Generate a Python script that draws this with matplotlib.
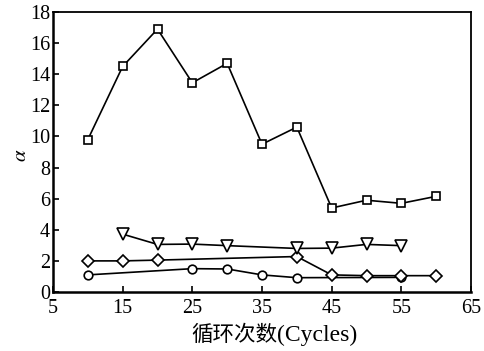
import matplotlib
matplotlib.use("Agg")
import matplotlib.pyplot as plt

plt.rcParams['font.family'] = ['Liberation Serif', 'Noto Sans CJK SC']
plt.rcParams['mathtext.fontset'] = 'stix'

# alpha vs. cycle number for four series
cyc_sq = [10, 15, 20, 25, 30, 35, 40, 45, 50, 55, 60]
alpha_sq = [9.8, 14.5, 16.9, 13.45, 14.7, 9.5, 10.6, 5.4, 5.9, 5.7, 6.15]

cyc_tri = [15, 20, 25, 30, 40, 45, 50, 55]
alpha_tri = [3.72, 3.06, 3.08, 2.98, 2.8, 2.82, 3.06, 2.98]

cyc_dia = [10, 15, 20, 40, 45, 50, 55, 60]
alpha_dia = [2.0, 2.0, 2.05, 2.28, 1.1, 1.05, 1.05, 1.05]

cyc_cir = [10, 25, 30, 35, 40, 55]
alpha_cir = [1.1, 1.5, 1.48, 1.1, 0.92, 0.94]

xticks = [5, 15, 25, 35, 45, 55, 65]
yticks = [0, 2, 4, 6, 8, 10, 12, 14, 16, 18]

W, H = 484, 351
fig = plt.figure(figsize=(W/100, H/100), dpi=100)
ax = fig.add_axes([53/W, 1-292/H, (471-53)/W, (292-12)/H])

style = dict(color='black', lw=1.2, mfc='white', mec='black', mew=1.2, clip_on=False)
ax.plot(cyc_cir, alpha_cir, marker='o', ms=6.2, **style)
ax.plot(cyc_dia, alpha_dia, marker='D', ms=6.2, **style)
ax.plot(cyc_tri, alpha_tri, marker='v', ms=8, **style)
ax.plot(cyc_sq, alpha_sq, marker='s', ms=5.8, **style)

ax.set_xlim(5, 65)
ax.set_ylim(0, 18)
ax.set_xticks(xticks)
ax.set_yticks(yticks)
ax.tick_params(direction='in', length=4, width=1.2, labelsize=14.5)
ax.tick_params(axis='x', pad=5)
ax.tick_params(axis='y', pad=2)

for s in ['left', 'bottom']:
    ax.spines[s].set_linewidth(1.8)
for s in ['top', 'right']:
    ax.spines[s].set_linewidth(1.3)

# x-axis title: Chinese part and the English part in parentheses
fig.text(277/W, 1-335/H, '循环次数', fontsize=15.5, ha='right', va='center',
         family=['Noto Sans CJK SC'])
fig.text(277/W, 1-335/H, '(Cycles)', fontsize=17, ha='left', va='center',
         family=['Liberation Serif'])
ax.set_ylabel(r'$\alpha$', fontsize=15)
ax.yaxis.set_label_coords(-0.052, 0.49)

fig.savefig('out.png', dpi=100)
